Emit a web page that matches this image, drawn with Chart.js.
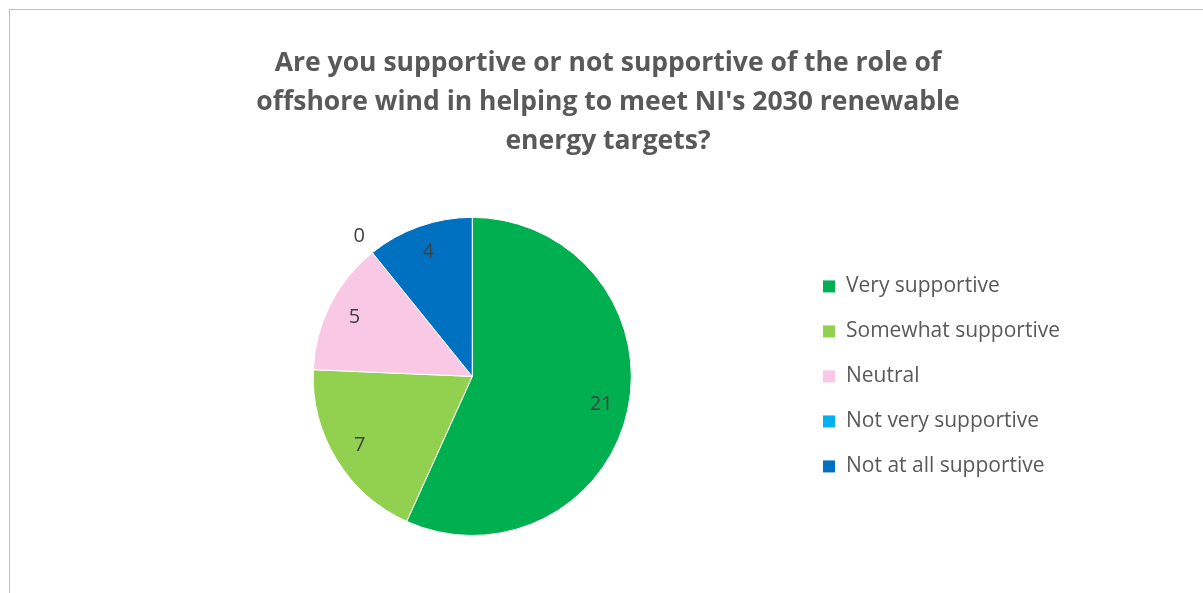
<!DOCTYPE html>
<html>
<head>
<meta charset="utf-8">
<script src="https://cdn.jsdelivr.net/npm/chart.js@4/dist/chart.umd.min.js"></script>
<style>
  html, body { margin: 0; padding: 0; background: #fff; }
  #wrap { position: relative; width: 1203px; height: 593px; }
</style>
</head>
<body>
<div id="wrap"><canvas id="chart"></canvas></div>
<script>
const categories = ["Very supportive", "Somewhat supportive", "Neutral", "Not very supportive", "Not at all supportive"];
const responses = [21, 7, 5, 0, 4];
const sliceColors = ["#00B050", "#92D050", "#F9C8E4", "#00B0F0", "#0070C0"];
const titleLines = [
  "Are you supportive or not supportive of the role of",
  "offshore wind in helping to meet NI's 2030 renewable",
  "energy targets?"
];

// grey frame round the chart (left and top edges show in the picture)
const framePlugin = {
  id: "frame",
  beforeDraw(chart) {
    const ctx = chart.ctx;
    ctx.save();
    ctx.strokeStyle = "#BFBFBF";
    ctx.lineWidth = 1;
    ctx.strokeRect(9.5, 9.5, chart.width + 20, chart.height + 20);
    ctx.restore();
  }
};

// value labels on the slices, zero values sit just outside the pie
const sliceLabels = {
  id: "sliceLabels",
  afterDatasetsDraw(chart) {
    const ctx = chart.ctx;
    const meta = chart.getDatasetMeta(0);
    const values = chart.data.datasets[0].data;
    ctx.save();
    ctx.font = "20px 'Open Sans'";
    ctx.fillStyle = "#404040";
    ctx.textAlign = "center";
    ctx.textBaseline = "middle";
    meta.data.forEach((arc, i) => {
      const p = arc.getProps(["x", "y", "startAngle", "endAngle", "outerRadius"], true);
      const mid = (p.startAngle + p.endAngle) / 2;
      const r = values[i] === 0 ? p.outerRadius * 1.13 : p.outerRadius * 0.83;
      ctx.fillText(String(values[i]), p.x + Math.cos(mid) * r, p.y + Math.sin(mid) * r);
    });
    ctx.restore();
  }
};

new Chart(document.getElementById("chart"), {
  type: "pie",
  data: {
    labels: categories,
    datasets: [{
      data: responses,
      backgroundColor: sliceColors,
      borderColor: "#FFFFFF",
      borderWidth: 1,
      hoverOffset: 0
    }]
  },
  options: {
    responsive: true,
    maintainAspectRatio: false,
    animation: false,
    layout: { padding: { left: 146, right: 133, top: 44, bottom: 57 } },
    plugins: {
      title: {
        display: true,
        text: titleLines,
        color: "#595959",
        font: { family: "'Open Sans'", size: 26.5, weight: "bold", lineHeight: 1.47 },
        padding: { top: 0, bottom: 56 }
      },
      legend: {
        position: "right",
        fullSize: false,
        labels: {
          color: "#595959",
          font: { family: "'Open Sans'", size: 21 },
          boxWidth: 13,
          boxHeight: 13,
          padding: 24
        }
      },
      tooltip: { enabled: false }
    }
  },
  plugins: [framePlugin, sliceLabels]
});
</script>
</body>
</html>
